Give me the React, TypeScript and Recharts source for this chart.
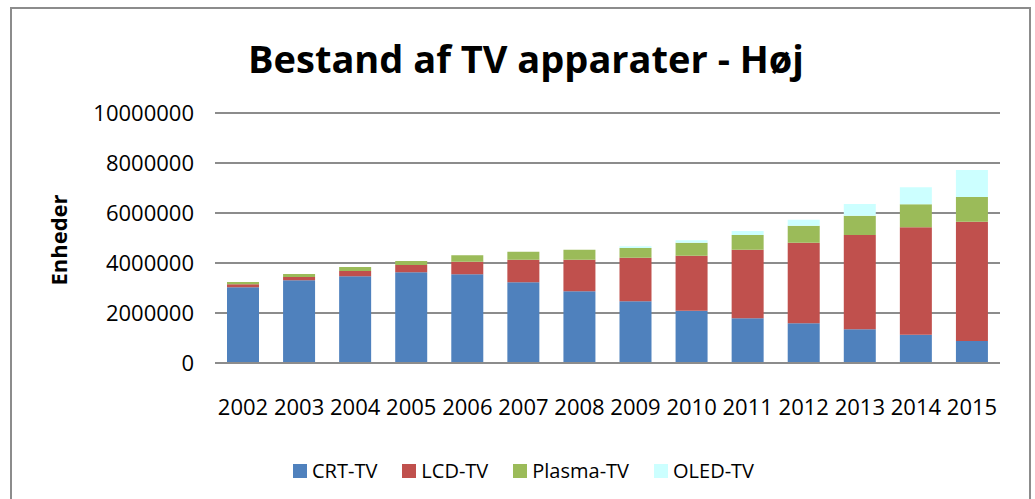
import React from 'react';
import {
  BarChart,
  Bar,
  XAxis,
  YAxis,
  CartesianGrid,
  Legend,
  Label,
} from 'recharts';

// data (units)
const years = ['2002', '2003', '2004', '2005', '2006', '2007', '2008', '2009', '2010', '2011', '2012', '2013', '2014', '2015'];
const crt = [3030000, 3310000, 3470000, 3630000, 3550000, 3230000, 2870000, 2470000, 2090000, 1790000, 1590000, 1350000, 1130000, 880000];
const lcd = [120000, 130000, 210000, 290000, 500000, 900000, 1260000, 1740000, 2200000, 2740000, 3220000, 3770000, 4300000, 4770000];
const plasma = [90000, 120000, 160000, 160000, 260000, 320000, 400000, 390000, 520000, 590000, 680000, 770000, 920000, 990000];
const oled = [0, 0, 0, 0, 0, 0, 0, 70000, 100000, 160000, 240000, 470000, 680000, 1080000];
const yTicks = [0, 2000000, 4000000, 6000000, 8000000, 10000000];

const series = [
  { key: 'crt', name: 'CRT-TV', color: '#4F81BD' },
  { key: 'lcd', name: 'LCD-TV', color: '#C0504D' },
  { key: 'plasma', name: 'Plasma-TV', color: '#9BBB59' },
  { key: 'oled', name: 'OLED-TV', color: '#CCFFFF' },
];

const data = years.map((year, i) => ({
  year,
  crt: crt[i],
  lcd: lcd[i],
  plasma: plasma[i],
  oled: oled[i],
}));

const FONT = '"Open Sans", sans-serif';
const GRAY = '#8c8c8c';

const XTick = (props: any) => {
  const { x, y, payload } = props;
  return (
    <text x={x} y={y + 44} textAnchor="middle" fontFamily={FONT} fontSize={22} fill="#000">
      {payload.value}
    </text>
  );
};

const YTick = (props: any) => {
  const { y, payload } = props;
  return (
    <text x={194} y={y + 8} textAnchor="end" fontFamily={FONT} fontSize={22} fill="#000">
      {payload.value}
    </text>
  );
};

// legend laid out like the Excel one, starting at x≈293
const LegendContent = () => (
  <div style={{ display: 'flex', justifyContent: 'flex-start', paddingLeft: 293, fontFamily: FONT, fontSize: 20, color: '#000', paddingTop: 4 }}>
    {series.map((s) => (
      <div key={s.key} style={{ display: 'flex', alignItems: 'center', marginRight: 25 }}>
        <span style={{ display: 'inline-block', width: 14, height: 14, background: s.color, marginRight: 5 }} />
        <span>{s.name}</span>
      </div>
    ))}
  </div>
);

export default function App() {
  return (
    <div style={{ position: 'absolute', left: 0, top: 0, width: 1035, height: 499, overflow: 'hidden', background: '#fff' }}>
      <div
        style={{
          position: 'absolute',
          left: 10,
          top: 7,
          width: 1017,
          height: 520,
          border: `2px solid ${GRAY}`,
        }}
      />
      <div style={{ position: 'absolute', left: 0, top: 0 }}>
        <BarChart
          width={1035}
          height={499}
          data={data}
          margin={{ top: 113, right: 35, bottom: 16, left: 0 }}
          barSize={32}
        >
          <text
            x={526}
            y={73}
            textAnchor="middle"
            fontFamily={FONT}
            fontWeight="bold"
            fontSize={38}
            fill="#000"
          >
            Bestand af TV apparater - Høj
          </text>
          <CartesianGrid vertical={false} stroke={GRAY} strokeWidth={2} />
          <XAxis
            dataKey="year"
            height={90}
            axisLine={{ stroke: GRAY, strokeWidth: 2 }}
            tickLine={false}
            tick={<XTick />}
            interval={0}
          />
          <YAxis
            width={215}
            domain={[0, 10000000]}
            ticks={yTicks}
            axisLine={false}
            tickLine={false}
            tick={<YTick />}
          >
            <Label
              content={() => (
                <text
                  x={0}
                  y={0}
                  transform="translate(67,240) rotate(-90)"
                  textAnchor="middle"
                  fontFamily={FONT}
                  fontWeight="bold"
                  fontSize={22}
                  fill="#000"
                >
                  Enheder
                </text>
              )}
            />
          </YAxis>
          <Legend verticalAlign="bottom" height={30} content={<LegendContent />} />
          {series.map((s) => (
            <Bar
              key={s.key}
              dataKey={s.key}
              name={s.name}
              stackId="tv"
              fill={s.color}
              isAnimationActive={false}
            />
          ))}
        </BarChart>
      </div>
    </div>
  );
}
